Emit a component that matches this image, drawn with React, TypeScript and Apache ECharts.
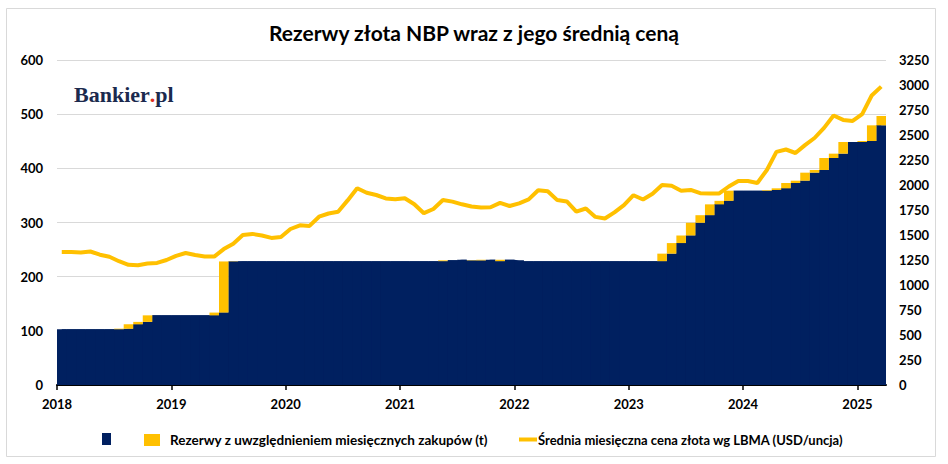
import { useEffect, useRef } from "react";
import * as echarts from "echarts";

const NAVY = "#002060";
const GOLD = "#FFC000";
const INK = "#000000";
const GRID_LINE = "#d9d9d9";
const FONT = "Lato, 'Open Sans', sans-serif";

// Year tick labels, one per January boundary
const YEAR_TICKS = ["2018", "2019", "2020", "2021", "2022", "2023", "2024", "2025"];

// Reserves at month end (t), Jan 2018 – Mar 2025
const RESERVES_2018 = [102.9, 102.9, 102.9, 102.9, 102.9, 102.9, 104.0, 112.0, 116.5, 128.6, 128.6, 128.6];
const RESERVES_2019 = [128.6, 128.6, 128.6, 128.6, 133.7, 228.1, 228.6, 228.6, 228.6, 228.6, 228.6, 228.6];
const RESERVES_2020 = [228.6, 228.6, 228.6, 228.6, 228.6, 228.6, 228.6, 228.6, 228.6, 228.6, 228.6, 228.6];
const RESERVES_2021 = [228.6, 228.6, 228.6, 228.6, 230.1, 230.3, 231.2, 230.3, 231.2, 231.2, 231.2, 231.2];
const RESERVES_2022 = [230.0, 228.6, 228.6, 228.6, 228.6, 228.6, 228.6, 228.6, 228.6, 228.6, 228.6, 228.6];
const RESERVES_2023 = [228.6, 228.6, 228.6, 242.5, 262.0, 276.0, 299.5, 313.5, 333.5, 340.0, 358.8, 358.8];
const RESERVES_2024 = [358.8, 358.8, 360.0, 363.1, 372.9, 377.2, 392.0, 396.9, 419.1, 427.1, 448.6, 448.6];
const RESERVES_2025 = [450.5, 479.4, 496.6];

// Purchases within the month (t) – the yellow part of each bar
const PURCHASES_2018 = [0, 0, 0, 0, 0, 0, 1.1, 8.0, 4.5, 12.1, 0, 0];
const PURCHASES_2019 = [0, 0, 0, 0, 5.1, 94.4, 0.5, 0, 0, 0, 0, 0];
const PURCHASES_2020 = [0, 0, 0, 0, 0, 0, 0, 0, 0, 0, 0, 0];
const PURCHASES_2021 = [0, 0, 0, 0, 1.5, 0, 0, 0.6, 1.2, 0, 2.6, 0];
const PURCHASES_2022 = [0, 0, 0, 0, 0, 0, 0, 0, 0, 0, 0, 0];
const PURCHASES_2023 = [0, 0, 0, 13.9, 19.5, 14.0, 23.5, 14.0, 20.0, 6.5, 18.8, 0];
const PURCHASES_2024 = [0, 0, 1.2, 3.1, 9.8, 4.3, 14.8, 4.9, 22.2, 8.0, 21.5, 0];
const PURCHASES_2025 = [1.9, 28.9, 17.2];

// Monthly average LBMA gold price (USD/oz)
const PRICE_2018 = [1331, 1331, 1325, 1335, 1303, 1282, 1238, 1202, 1198, 1215, 1221, 1250];
const PRICE_2019 = [1292, 1320, 1300, 1285, 1284, 1359, 1413, 1500, 1511, 1495, 1471, 1480];
const PRICE_2020 = [1560, 1597, 1591, 1683, 1715, 1732, 1846, 1968, 1922, 1900, 1866, 1858];
const PRICE_2021 = [1867, 1808, 1718, 1760, 1850, 1834, 1807, 1785, 1775, 1777, 1821, 1790];
const PRICE_2022 = [1817, 1856, 1948, 1937, 1849, 1836, 1733, 1765, 1681, 1665, 1726, 1798];
const PRICE_2023 = [1898, 1855, 1913, 2000, 1992, 1943, 1951, 1918, 1916, 1916, 1985, 2040];
const PRICE_2024 = [2040, 2020, 2150, 2331, 2355, 2320, 2399, 2470, 2571, 2695, 2651, 2641];
const PRICE_2025 = [2709, 2895, 2984];

const RESERVES = [
  ...RESERVES_2018, ...RESERVES_2019, ...RESERVES_2020, ...RESERVES_2021,
  ...RESERVES_2022, ...RESERVES_2023, ...RESERVES_2024, ...RESERVES_2025,
];
const PURCHASES = [
  ...PURCHASES_2018, ...PURCHASES_2019, ...PURCHASES_2020, ...PURCHASES_2021,
  ...PURCHASES_2022, ...PURCHASES_2023, ...PURCHASES_2024, ...PURCHASES_2025,
];
const PRICE = [
  ...PRICE_2018, ...PRICE_2019, ...PRICE_2020, ...PRICE_2021,
  ...PRICE_2022, ...PRICE_2023, ...PRICE_2024, ...PRICE_2025,
];
const MONTHS = RESERVES.map((_, i) => `${2018 + Math.floor(i / 12)}-${String((i % 12) + 1).padStart(2, "0")}`);

const BASE_NAME = "Rezerwy z poprzedniego miesiąca (t)";
const BAR_NAME = "Rezerwy z uwzględnieniem miesięcznych zakupów (t)";
const LINE_NAME = "Średnia miesięczna cena złota wg LBMA (USD/uncja)";

const bold = { color: INK, fontFamily: FONT, fontWeight: "bold" as const, fontSize: 13 };

function buildOption(): echarts.EChartsCoreOption {
  const yearTicks = YEAR_TICKS.map((_, i) => i * 12);
  const base = RESERVES.map((r, i) => +(r - PURCHASES[i]).toFixed(1));
  return {
    animation: false,
    backgroundColor: "#ffffff",
    title: {
      text: "Rezerwy złota NBP wraz z jego średnią ceną",
      left: "center",
      top: 17,
      textStyle: { color: INK, fontFamily: FONT, fontWeight: "bold", fontSize: 21 },
    },
    graphic: [
      {
        type: "rect",
        silent: true,
        shape: { x: 6.5, y: 8.5, width: 929, height: 448 },
        style: { fill: "none", stroke: GRID_LINE, lineWidth: 1 },
      },
      {
        type: "text",
        silent: true,
        style: {
          x: 74,
          y: 105,
          verticalAlign: "bottom",
          text: "{a|Bankier}{b|.}{a|pl}",
          rich: {
            a: { fontFamily: "'Liberation Serif', serif", fontWeight: "bold", fontSize: 22, fill: "#1b2a4e" },
            b: { fontFamily: "'Liberation Serif', serif", fontWeight: "bold", fontSize: 22, fill: "#e0301e" },
          },
        },
      },
    ],
    legend: [
      {
        data: [BASE_NAME],
        left: 97,
        top: 428,
        icon: "rect",
        itemWidth: 9,
        itemHeight: 12,
        formatter: () => "",
        selectedMode: false,
      },
      {
        data: [BAR_NAME],
        left: 139,
        top: 428,
        icon: "rect",
        itemWidth: 16,
        itemHeight: 12,
        selectedMode: false,
        textStyle: { ...bold, fontSize: 13.5, padding: [0, 0, 0, 5] },
      },
      {
        data: [{ name: LINE_NAME, icon: "rect", itemStyle: { color: GOLD } }],
        left: 514,
        top: 428,
        itemWidth: 18,
        itemHeight: 4,
        selectedMode: false,
        textStyle: { ...bold, fontSize: 13, padding: [0, 0, 0, -4] },
      },
    ],
    grid: { left: 57, right: 62, top: 60, bottom: 79 },
    xAxis: [
      {
        type: "category",
        data: MONTHS,
        show: false,
      },
      {
        type: "value",
        min: 0,
        max: MONTHS.length,
        position: "bottom",
        splitLine: { show: false },
        axisLine: { show: true, lineStyle: { color: INK, width: 2 } },
        axisTick: { show: true, length: 5, lineStyle: { color: INK, width: 1.5 }, customValues: yearTicks },
        axisLabel: {
          ...bold,
          margin: 12,
          customValues: yearTicks,
          formatter: (v: number) => YEAR_TICKS[Math.round(v / 12)] ?? "",
        },
      },
    ],
    yAxis: [
      {
        type: "value",
        min: 0,
        max: 600,
        interval: 100,
        axisLine: { show: false },
        axisTick: { show: false },
        splitLine: { lineStyle: { color: GRID_LINE, width: 1 } },
        axisLabel: { ...bold, margin: 14 },
      },
      {
        type: "value",
        min: 0,
        max: 3250,
        interval: 250,
        position: "right",
        axisLine: { show: false },
        axisTick: { show: false },
        splitLine: { show: false },
        axisLabel: { ...bold, margin: 13, formatter: (v: number) => String(v) },
      },
    ],
    series: [
      // navy fill behind the bars so the joins between adjacent bars don't show as hairlines
      {
        name: "underlay",
        type: "line",
        step: "middle",
        silent: true,
        symbol: "none",
        z: 1,
        lineStyle: { width: 0 },
        areaStyle: { color: NAVY, opacity: 1 },
        data: base,
      },
      {
        name: BASE_NAME,
        type: "bar",
        stack: "reserves",
        barWidth: "100%",
        barCategoryGap: "0%",
        z: 2,
        itemStyle: { color: NAVY },
        data: base,
      },
      {
        name: BAR_NAME,
        type: "bar",
        stack: "reserves",
        barWidth: "100%",
        barCategoryGap: "0%",
        z: 2,
        itemStyle: { color: GOLD },
        data: PURCHASES.map((p) => (p > 0 ? p : null)),
      },
      {
        name: LINE_NAME,
        type: "line",
        yAxisIndex: 1,
        symbol: "none",
        z: 5,
        lineStyle: { color: GOLD, width: 4 },
        itemStyle: { color: GOLD },
        data: PRICE,
      },
    ],
  };
}

function GoldChart() {
  const ref = useRef<HTMLDivElement>(null);

  useEffect(() => {
    const el = ref.current;
    if (!el) return;
    const chart = echarts.init(el, null, { renderer: "svg" });
    chart.setOption(buildOption());
    return () => chart.dispose();
  }, []);

  return <div ref={ref} style={{ width: 948, height: 464 }} />;
}

export default function App() {
  return (
    <div style={{ position: "fixed", left: 0, top: 0, width: 948, height: 464, background: "#ffffff" }}>
      <GoldChart />
    </div>
  );
}
